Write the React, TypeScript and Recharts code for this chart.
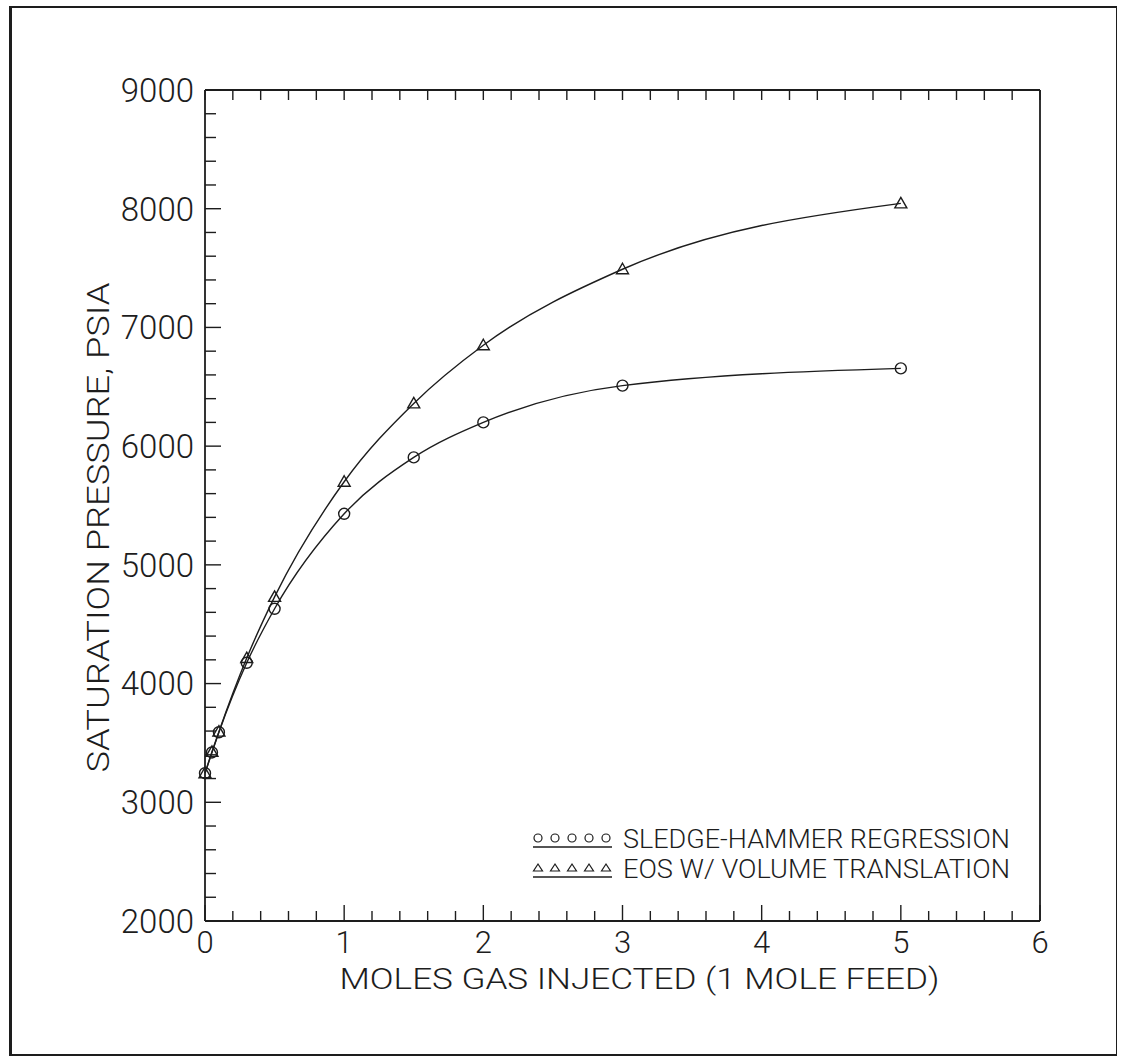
import React from 'react';
import { LineChart, Line, XAxis, YAxis, Legend } from 'recharts';

// moles of gas injected per mole of feed
const molesInjected = [0, 0.05, 0.1, 0.3, 0.5, 1, 1.5, 2, 3, 5];
// saturation pressure, psia
const sledgeHammer = [3245, 3420, 3590, 4175, 4630, 5430, 5905, 6200, 6510, 6655];
const eosVolTrans = [3245, 3425, 3595, 4215, 4730, 5700, 6360, 6850, 7490, 8045];

const xMajor = [0, 1, 2, 3, 4, 5, 6];
const yMajor = [2000, 3000, 4000, 5000, 6000, 7000, 8000, 9000];
// right frame carries its own divisions (9 major, 5 minor each)
const rightMajor = [0, 1, 2, 3, 4, 5, 6, 7, 8, 9];

const minorSteps = (majors: number[], n: number) => {
  const out: number[] = [];
  for (let i = 0; i < majors.length - 1; i++) {
    const step = (majors[i + 1] - majors[i]) / n;
    for (let k = 0; k < n; k++) out.push(+(majors[i] + k * step).toFixed(4));
  }
  out.push(majors[majors.length - 1]);
  return out;
};

const xTicks = minorSteps(xMajor, 5);
const yTicks = minorSteps(yMajor, 5);
const rightTicks = minorSteps(rightMajor, 5);

const data = molesInjected.map((x, i) => ({ x, sledge: sledgeHammer[i], eos: eosVolTrans[i] }));

const INK = '#1d1d1d';
const FONT = 'Roboto, "Liberation Sans", sans-serif';
const W = 1121;
const H = 1062;

const isMajor = (v: number, majors: number[]) => majors.some((m) => Math.abs(m - v) < 1e-6);

const BottomTick = (props: any) => {
  const { x, y, payload } = props;
  const major = isMajor(payload.value, xMajor);
  return (
    <g>
      <line x1={x} y1={y} x2={x} y2={y - (major ? 16 : 10)} stroke={INK} strokeWidth={1.4} />
      {major && (
        <text x={x} y={y + 32} textAnchor="middle" fontFamily={FONT} fontWeight={300} fontSize={31} fill={INK}>
          {payload.value}
        </text>
      )}
    </g>
  );
};

const TopTick = (props: any) => {
  const { x, y } = props;
  return <line x1={x} y1={y} x2={x} y2={y + 10} stroke={INK} strokeWidth={1.4} />;
};

const LeftTick = (props: any) => {
  const { x, y, payload } = props;
  const major = isMajor(payload.value, yMajor);
  return (
    <g>
      <line x1={x} y1={y} x2={x + (major ? 16 : 11)} y2={y} stroke={INK} strokeWidth={1.4} />
      {major && (
        <text x={x - 11} y={y} dy="0.36em" textAnchor="end" fontFamily={FONT} fontWeight={300} fontSize={33} fill={INK}>
          {payload.value}
        </text>
      )}
    </g>
  );
};

const RightTick = (props: any) => {
  const { x, y, payload } = props;
  const major = isMajor(payload.value, rightMajor);
  return <line x1={x} y1={y} x2={x - (major ? 16 : 10)} y2={y} stroke={INK} strokeWidth={1.4} />;
};

const CircleDot = (props: any) => {
  const { cx, cy, index } = props;
  if (cx == null || cy == null) return <g key={index} />;
  return <circle key={index} cx={cx} cy={cy} r={5.5} fill="none" stroke={INK} strokeWidth={1.4} />;
};

const TriangleDot = (props: any) => {
  const { cx, cy, index } = props;
  if (cx == null || cy == null) return <g key={index} />;
  const s = 6;
  return (
    <path
      key={index}
      d={`M${cx},${cy - s} L${cx + s},${cy + s * 0.75} L${cx - s},${cy + s * 0.75} Z`}
      fill="none"
      stroke={INK}
      strokeWidth={1.4}
    />
  );
};

const legendRows = [
  { label: 'SLEDGE-HAMMER REGRESSION', marker: 'circle' },
  { label: 'EOS W/ VOLUME TRANSLATION', marker: 'triangle' },
];

const LegendBox = () => (
  <svg width={500} height={70} style={{ display: 'block', overflow: 'visible' }}>
    {legendRows.map((row, r) => {
      const cy = 18 + r * 30;
      return (
        <g key={row.label}>
          {[0, 1, 2, 3, 4].map((k) => {
            const cx = 8 + k * 17;
            return row.marker === 'circle' ? (
              <circle key={k} cx={cx} cy={cy} r={4} fill="none" stroke={INK} strokeWidth={1.2} />
            ) : (
              <path key={k} d={`M${cx},${cy - 4} L${cx + 4.5},${cy + 3} L${cx - 4.5},${cy + 3} Z`} fill="none" stroke={INK} strokeWidth={1.2} />
            );
          })}
          <line x1={3} y1={cy + 9} x2={82} y2={cy + 9} stroke={INK} strokeWidth={1.4} />
          <text
            x={93}
            y={cy + 10}
            fontFamily={FONT}
            fontWeight={300}
            fontSize={26}
            fill={INK}
            textLength={387}
            lengthAdjust="spacingAndGlyphs"
          >
            {row.label}
          </text>
        </g>
      );
    })}
  </svg>
);

const YTitle = (props: any) => {
  const { x, y, height } = props.viewBox;
  const cx = x - 8;
  const cy = y + height / 2 + 22;
  return (
    <text
      x={cx}
      y={cy}
      transform={`rotate(-90, ${cx}, ${cy})`}
      textAnchor="middle"
      dy="0.36em"
      fontFamily={FONT}
      fontWeight={300}
      fontSize={32}
      fill={INK}
      textLength={490}
      lengthAdjust="spacingAndGlyphs"
    >
      SATURATION PRESSURE, PSIA
    </text>
  );
};

const XTitle = (props: any) => {
  const { x, y, width } = props.viewBox;
  return (
    <text
      x={x + width / 2 + 17}
      y={y + 68}
      textAnchor="middle"
      fontFamily={FONT}
      fontWeight={300}
      fontSize={30}
      fill={INK}
      textLength={600}
      lengthAdjust="spacingAndGlyphs"
    >
      MOLES GAS INJECTED (1 MOLE FEED)
    </text>
  );
};

export default function App() {
  return (
    <div style={{ position: 'absolute', left: 0, top: 0, width: W, height: H, background: '#fff' }}>
      <div
        style={{
          position: 'absolute',
          left: 9,
          top: 6,
          width: 1108,
          height: 1050,
          borderTop: `2px solid ${INK}`,
          borderLeft: `3px solid ${INK}`,
          borderRight: `1.5px solid ${INK}`,
          borderBottom: `2px solid ${INK}`,
          boxSizing: 'border-box',
        }}
      />
      <LineChart width={W} height={H} data={data} margin={{ top: 80, right: 71, bottom: 101, left: 105 }}>
        <XAxis
          xAxisId="bottom"
          dataKey="x"
          type="number"
          domain={[0, 6]}
          ticks={xTicks}
          interval={0}
          height={40}
          tickSize={0}
          tickMargin={0}
          tickLine={false}
          axisLine={{ stroke: INK, strokeWidth: 1.8 }}
          tick={<BottomTick />}
          label={<XTitle />}
        />
        <XAxis
          xAxisId="top"
          orientation="top"
          dataKey="x"
          type="number"
          domain={[0, 6]}
          ticks={xTicks}
          interval={0}
          height={10}
          tickSize={0}
          tickMargin={0}
          tickLine={false}
          axisLine={{ stroke: INK, strokeWidth: 1.8 }}
          tick={<TopTick />}
        />
        <YAxis
          yAxisId="left"
          type="number"
          domain={[2000, 9000]}
          ticks={yTicks}
          interval={0}
          width={100}
          tickSize={0}
          tickMargin={0}
          tickLine={false}
          axisLine={{ stroke: INK, strokeWidth: 1.8 }}
          tick={<LeftTick />}
          label={<YTitle />}
        />
        <YAxis
          yAxisId="right"
          orientation="right"
          type="number"
          domain={[0, 9]}
          ticks={rightTicks}
          interval={0}
          width={10}
          tickSize={0}
          tickMargin={0}
          tickLine={false}
          axisLine={{ stroke: INK, strokeWidth: 1.8 }}
          tick={<RightTick />}
          reversed
        />
        <Legend
          layout="vertical"
          align="center"
          verticalAlign="middle"
          content={<LegendBox />}
          wrapperStyle={{ left: 530, top: 820, width: 500, height: 70 }}
        />
        <Line
          xAxisId="bottom"
          yAxisId="left"
          type="monotone"
          dataKey="sledge"
          name="SLEDGE-HAMMER REGRESSION"
          stroke={INK}
          strokeWidth={1.4}
          dot={<CircleDot />}
          activeDot={false}
          isAnimationActive={false}
        />
        <Line
          xAxisId="bottom"
          yAxisId="left"
          type="monotone"
          dataKey="eos"
          name="EOS W/ VOLUME TRANSLATION"
          stroke={INK}
          strokeWidth={1.4}
          dot={<TriangleDot />}
          activeDot={false}
          isAnimationActive={false}
        />
      </LineChart>
    </div>
  );
}
